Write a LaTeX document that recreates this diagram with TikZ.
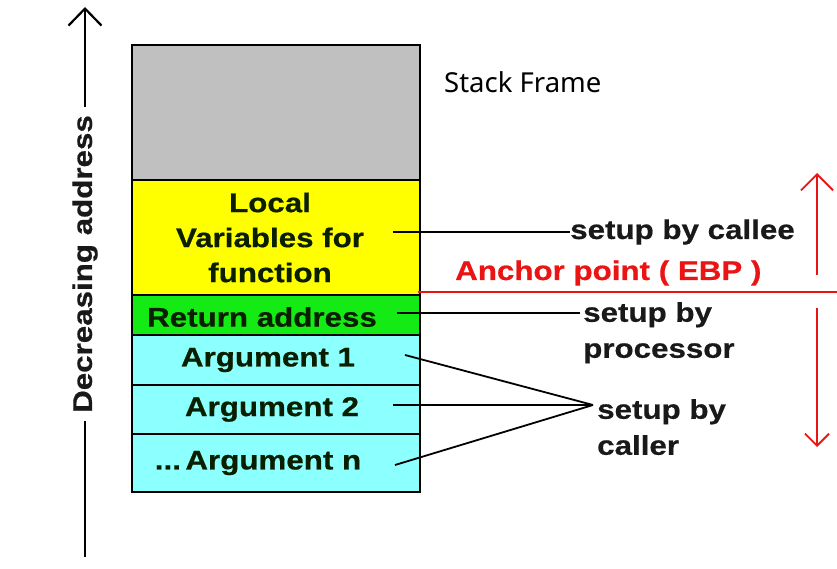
\documentclass[tikz,border=0pt]{standalone}
\usepackage{fontspec}
\usepackage{tikz}
\usetikzlibrary{arrows.meta, positioning}
\newfontfamily\arialish[FakeStretch=1.16, BoldFeatures={FakeBold=0.6}]{Liberation Sans}
\newfontfamily\segoeish{Noto Sans}
\definecolor{framegray}{RGB}{192,192,192}
\definecolor{localyellow}{RGB}{255,255,0}
\definecolor{retgreen}{RGB}{20,235,20}
\definecolor{argcyan}{RGB}{140,255,255}
\definecolor{celltext}{RGB}{10,30,0}
\definecolor{ebpred}{RGB}{235,20,20}
\tikzstyle{cell}=[rectangle, draw=black, line width=2pt, minimum width=288pt, inner sep=0pt, outer sep=0pt]
\tikzstyle{celltext}=[inner sep=0pt, text=celltext, align=center, font=\arialish\bfseries\fontsize{27}{35}\selectfont]
\tikzstyle{note}=[inner sep=0pt, align=left, text=black!90, font=\arialish\bfseries\fontsize{27}{36}\selectfont]
\tikzstyle{pointer}=[line width=1.8pt, black]
\tikzstyle{redline}=[line width=1.8pt, ebpred]

\begin{document}
\begin{tikzpicture}[x=1pt, y=1pt]
  \useasboundingbox (0,0) rectangle (837,568);
  % the frame, top to bottom
  \node[cell, fill=framegray, minimum height=135pt] (frame) at (276,455.5) {};
  \node[cell, fill=localyellow, minimum height=115pt, label={[celltext, xshift=-6pt]center:Local\\Variables for\\function}] (locals) [below=0pt of frame] {};
  \node[cell, fill=retgreen, minimum height=40pt, label={[celltext, xshift=-14pt, yshift=-2pt]center:Return address}] (retaddr) [below=0pt of locals] {};
  \node[cell, fill=argcyan, minimum height=50pt, label={[celltext, xshift=-8pt]center:Argument 1}] (arg1) [below=0pt of retaddr] {};
  \node[cell, fill=argcyan, minimum height=49pt, label={[celltext, xshift=-4pt]center:Argument 2}] (arg2) [below=0pt of arg1] {};
  \node[cell, fill=argcyan, minimum height=58pt, label={[celltext, xshift=-18pt]center:...\,Argument n}] (argn) [below=0pt of arg2] {};
  \node[anchor=base west, inner sep=0pt, font=\segoeish\fontsize{27.5}{33}\selectfont] (title) at (444,475) {Stack Frame};
  % decreasing address axis
  \node[note, rotate=90, inner sep=8pt] (axis) at (85,304) {Decreasing address};
  \coordinate (axtop) at (85,561);
  \coordinate (axbot) at (85,11);
  \draw[line width=2.2pt, -{Straight Barb[length=17pt, width=33pt]}] (axis) -- (axtop);
  \draw[line width=2.2pt] (axis) -- (axbot);
  % who sets up what
  \coordinate (l0) at (393,336);
  \coordinate (r0) at (397,255);
  \coordinate (a1) at (405,213);
  \coordinate (a2) at (393,163);
  \coordinate (an) at (395,103);
  \coordinate (calleeend) at (570,336);
  \coordinate (procend) at (580,255);
  \coordinate (callerend) at (593,163);
  \node[note, anchor=west] (callee) at (calleeend) {setup by callee};
  \node[note, anchor=north west] (proc) at (583,266) {setup by\\processor};
  \node[note, anchor=north west] (caller) at (597,169) {setup by\\caller};
  \draw[pointer] (l0) -- (calleeend);
  \draw[pointer] (r0) -- (procend);
  \draw[pointer] (a1) -- (callerend);
  \draw[pointer] (a2) -- (callerend);
  \draw[pointer] (an) -- (callerend);
  % anchor point
  \coordinate (ebpl) at (418,276);
  \coordinate (ebpr) at (837,276);
  \draw[redline] (ebpl) -- (ebpr);
  \node[note, anchor=base west, text=ebpred] (ebp) at (455,288) {Anchor point ( EBP )};
  \coordinate (up0) at (817,293);
  \coordinate (up1) at (817,395);
  \coordinate (dn0) at (817,260);
  \coordinate (dn1) at (817,121);
  \draw[redline, -{Straight Barb[length=16pt, width=32pt]}] (up0) -- (up1);
  \draw[redline, -{Straight Barb[length=12pt, width=24pt]}] (dn0) -- (dn1);
\end{tikzpicture}
\end{document}
